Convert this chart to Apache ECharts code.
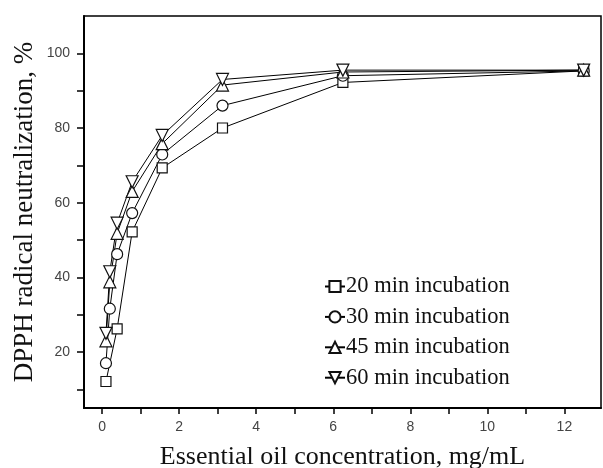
<!DOCTYPE html>
<html>
<head>
<meta charset="utf-8">
<script src="https://cdn.jsdelivr.net/npm/echarts@6/dist/echarts.min.js"></script>
<style>
  html, body { margin: 0; padding: 0; background: #fff; }
  #chart { width: 603px; height: 468px; }
</style>
</head>
<body>
<div id="chart"></div>
<script>
// concentrations, mg/mL
var conc = [0.1, 0.2, 0.39, 0.78, 1.56, 3.125, 6.25, 12.5];
// % neutralization per incubation time (null = no point)
var min20 = [12.1, null, 26.2, 52.2, 69.3, 80.0, 92.2, 95.3];
var min30 = [17.0, 31.6, 46.2, 57.2, 72.9, 86.0, 94.0, 95.3];
var min45 = [23.0, 38.8, 51.8, 63.0, 75.8, 91.5, 95.0, 95.5];
var min60 = [25.0, 41.5, 54.5, 65.6, 78.0, 93.0, 95.5, 95.5];
var names = ['20 min incubation', '30 min incubation', '45 min incubation', '60 min incubation'];
var xTicks = [0, 1, 2, 3, 4, 5, 6, 7, 8, 9, 10, 11, 12];
var xLabels = [0, 2, 4, 6, 8, 10, 12];
var yTicks = [10, 20, 30, 40, 50, 60, 70, 80, 90, 100];
var yLabels = [20, 40, 60, 80, 100];

function pairs(vals) {
  return conc.map(function (c, i) { return [c, vals[i]]; });
}

function mkSeries(name, vals, symbol, size, rotate) {
  return {
    name: name,
    type: 'line',
    data: pairs(vals),
    connectNulls: true,
    symbol: symbol,
    symbolSize: size,
    symbolRotate: rotate || 0,
    showAllSymbol: true,
    lineStyle: { color: '#000', width: 1 },
    itemStyle: { color: '#fff', borderColor: '#111', borderWidth: 1.2 },
    emphasis: { disabled: true },
    z: 3
  };
}

var chart = echarts.init(document.getElementById('chart'));
chart.setOption({
  animation: false,
  backgroundColor: '#fff',
  grid: {
    left: 84, right: 2, top: 16, bottom: 60,
    outerBoundsMode: 'none',
    show: true, borderColor: '#000', borderWidth: 1.5
  },
  legend: {
    orient: 'vertical',
    left: 319, top: 270,
    itemWidth: 20, itemHeight: 14, itemGap: 7.4,
    textStyle: { fontFamily: 'Liberation Serif', fontSize: 22.5, color: '#111', padding: [0, 0, 0, -4] },
    data: names
  },
  xAxis: {
    type: 'value',
    min: -0.47, max: 12.95,
    name: 'Essential oil concentration, mg/mL',
    nameLocation: 'middle', nameGap: 36, nameMoveOverlap: false,
    nameTextStyle: { fontFamily: 'Liberation Serif', fontSize: 26, color: '#111' },
    axisLine: { show: true, onZero: false, lineStyle: { color: '#000', width: 2 } },
    axisTick: { show: true, inside: false, length: 6, customValues: xTicks, lineStyle: { color: '#000', width: 1.5 } },
    axisLabel: { customValues: xLabels, fontFamily: 'Liberation Sans', fontSize: 14, color: '#444', margin: 12 },
    splitLine: { show: false }
  },
  yAxis: {
    type: 'value',
    min: 5, max: 110,
    name: 'DPPH radical neutralization, %',
    nameLocation: 'middle', nameGap: 46, nameRotate: 90, nameMoveOverlap: false,
    nameTextStyle: { fontFamily: 'Liberation Serif', fontSize: 27, color: '#111' },
    axisLine: { show: true, onZero: false, lineStyle: { color: '#000', width: 2 } },
    axisTick: { show: true, inside: false, length: 7, customValues: yTicks, lineStyle: { color: '#000', width: 1.5 } },
    axisLabel: { customValues: yLabels, fontFamily: 'Liberation Sans', fontSize: 14, color: '#444', margin: 14 },
    splitLine: { show: false }
  },
  series: [
    mkSeries(names[0], min20, 'rect', 10),
    mkSeries(names[1], min30, 'circle', 11),
    mkSeries(names[2], min45, 'triangle', 12),
    mkSeries(names[3], min60, 'triangle', 12, 180)
  ]
});
</script>
</body>
</html>
